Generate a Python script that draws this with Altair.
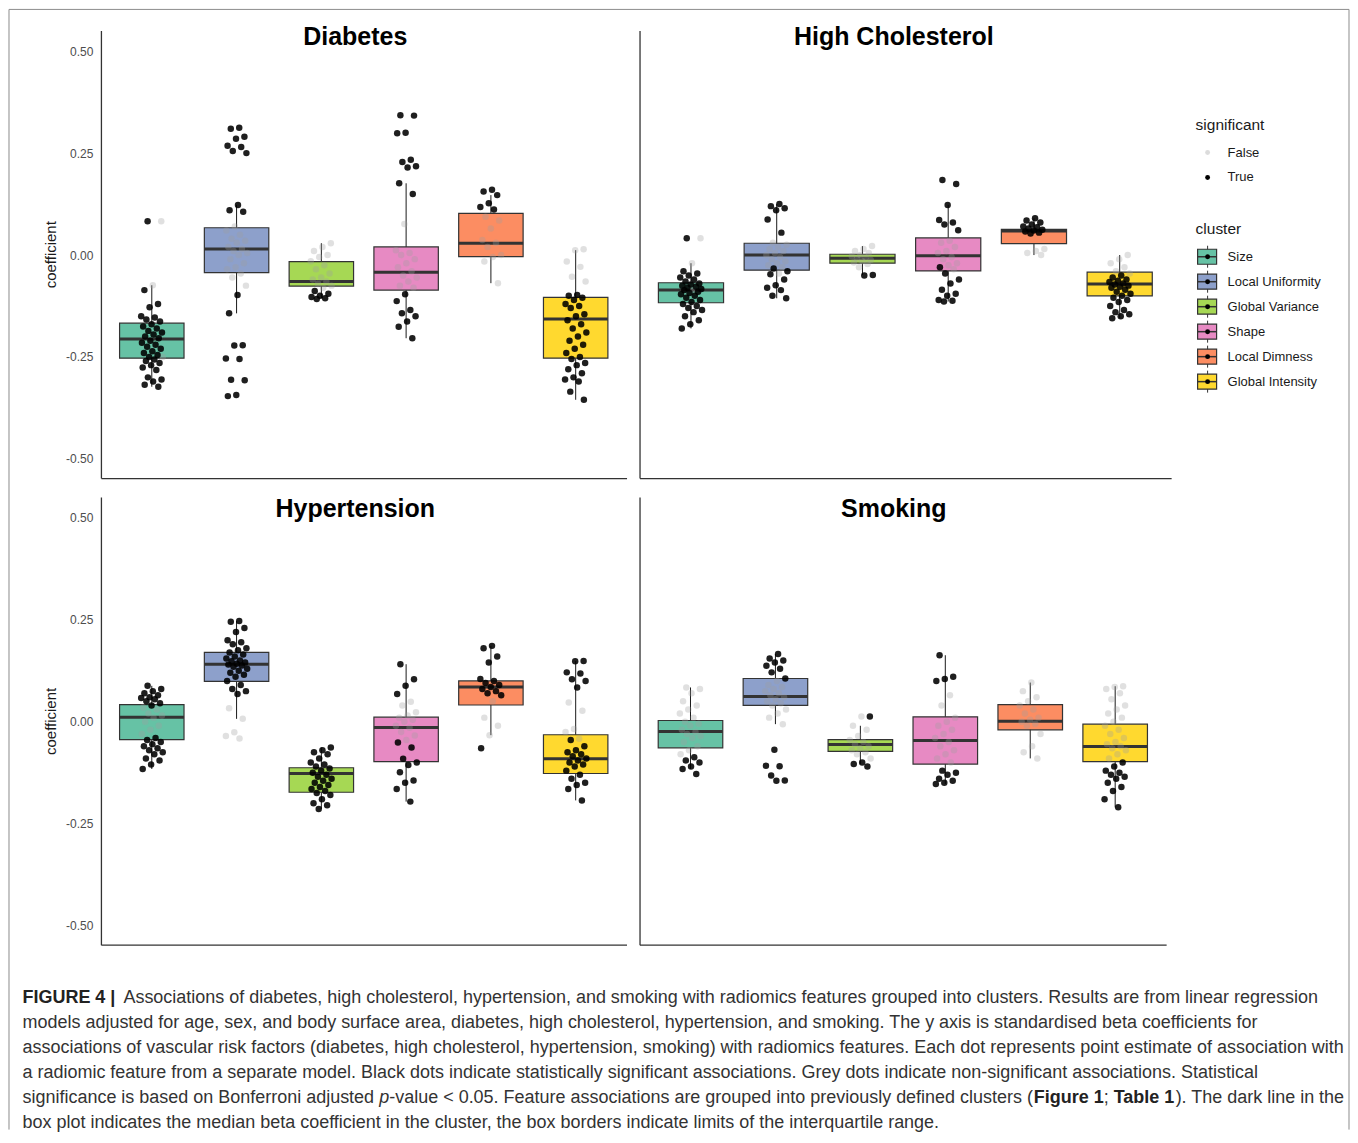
import altair as alt
import pandas as pd

clusters = ["Size", "Local Uniformity", "Global Variance", "Shape", "Local Dimness", "Global Intensity"]
cluster_colors = ["#66C2A5", "#8DA0CB", "#A6D854", "#E78AC3", "#FC8D62", "#FFD92F"]
panel_names = ["Diabetes", "High Cholesterol", "Hypertension", "Smoking"]
y_ticks = [-0.5, -0.25, 0.0, 0.25, 0.5]
sig_labels = ["False", "True"]

# box statistics per cluster: [whisker low, q1, median, q3, whisker high]
diabetes_box = [
    [-0.323, -0.253, -0.206, -0.167, -0.074],
    [-0.143, -0.043, 0.015, 0.067, 0.123],
    [-0.106, -0.076, -0.065, -0.016, 0.029],
    [-0.204, -0.086, -0.042, 0.020, 0.176],
    [-0.069, -0.004, 0.029, 0.102, 0.147],
    [-0.355, -0.253, -0.157, -0.104, 0.012],
]
cholesterol_box = [
    [-0.180, -0.117, -0.086, -0.068, -0.020],
    [-0.106, -0.037, 0.000, 0.029, 0.125],
    [-0.049, -0.020, -0.008, 0.002, 0.022],
    [-0.114, -0.039, -0.002, 0.042, 0.123],
    [0.000, 0.028, 0.059, 0.063, 0.090],
    [-0.155, -0.100, -0.071, -0.042, 0.000],
]
hypertension_box = [
    [-0.116, -0.044, 0.011, 0.042, 0.088],
    [0.007, 0.099, 0.141, 0.170, 0.247],
    [-0.214, -0.173, -0.127, -0.113, -0.063],
    [-0.196, -0.098, -0.014, 0.011, 0.141],
    [-0.033, 0.041, 0.085, 0.100, 0.186],
    [-0.193, -0.127, -0.091, -0.032, 0.149],
]
smoking_box = [
    [-0.116, -0.064, -0.024, 0.003, 0.084],
    [-0.006, 0.040, 0.062, 0.106, 0.166],
    [-0.104, -0.073, -0.056, -0.044, -0.010],
    [-0.153, -0.104, -0.046, 0.012, 0.163],
    [-0.090, -0.020, 0.001, 0.042, 0.096],
    [-0.210, -0.098, -0.061, -0.006, 0.087],
]

# coefficients of individual features (significant / not significant), per cluster
diabetes_sig = [
    [0.083, -0.086, -0.12, -0.128, -0.15, -0.153, -0.158, -0.163, -0.17, -0.175, -0.18, -0.186, -0.19, -0.195,
     -0.2, -0.204, -0.21, -0.215, -0.22, -0.225, -0.23, -0.236, -0.24, -0.245, -0.25, -0.256, -0.26, -0.265,
     -0.27, -0.276, -0.282, -0.3, -0.305, -0.31, -0.318, -0.323],
    [0.312, 0.31, 0.29, 0.285, 0.268, 0.265, 0.255, 0.25, 0.123, 0.11, 0.106, -0.098, -0.143, -0.221, -0.222,
     -0.254, -0.255, -0.306, -0.307, -0.343, -0.346],
    [-0.088, -0.095, -0.1, -0.103, -0.106, -0.108],
    [0.343, 0.342, 0.30, 0.299, 0.234, 0.228, 0.218, 0.215, 0.176, 0.15, -0.096, -0.113, -0.135, -0.143, -0.15,
     -0.163, -0.176, -0.204],
    [0.16, 0.156, 0.147, 0.127, 0.118, 0.112],
    [-0.098, -0.1, -0.105, -0.11, -0.12, -0.125, -0.13, -0.145, -0.15, -0.16, -0.17, -0.18, -0.19, -0.2, -0.21,
     -0.22, -0.23, -0.24, -0.25, -0.255, -0.265, -0.27, -0.28, -0.29, -0.3, -0.305, -0.31, -0.335, -0.355],
]
diabetes_nonsig = [
    [0.083, -0.074, -0.25],
    [0.07, 0.06, 0.05, 0.04, 0.035, 0.03, 0.02, 0.015, 0.01, 0.005, 0.0, -0.01, -0.02, -0.03, -0.035, -0.045,
     -0.055, -0.075],
    [0.029, 0.02, 0.01, 0.0, -0.005, -0.015, -0.025, -0.035, -0.045, -0.055, -0.06, -0.065, -0.07, -0.075, -0.08],
    [0.076, 0.012, 0.005, 0.0, -0.01, -0.02, -0.03, -0.04, -0.05, -0.055, -0.065, -0.075, -0.08],
    [0.094, 0.085, 0.065, 0.037, 0.03, 0.02, 0.0, -0.005, -0.016, -0.069],
    [0.014, 0.012, -0.016, -0.029, -0.053, -0.065],
]
cholesterol_sig = [
    [0.041, -0.04, -0.045, -0.05, -0.055, -0.06, -0.065, -0.07, -0.072, -0.075, -0.078, -0.08, -0.083, -0.086,
     -0.09, -0.093, -0.096, -0.1, -0.105, -0.11, -0.115, -0.12, -0.125, -0.13, -0.135, -0.14, -0.15, -0.16,
     -0.17, -0.18],
    [0.125, 0.12, 0.115, 0.11, 0.087, 0.055, -0.033, -0.04, -0.047, -0.06, -0.074, -0.08, -0.086, -0.1, -0.106],
    [-0.049, -0.05],
    [0.184, 0.174, 0.123, 0.086, 0.08, 0.075, 0.061, -0.03, -0.045, -0.06, -0.07, -0.085, -0.095, -0.1, -0.11,
     -0.112, -0.114],
    [0.09, 0.085, 0.08, 0.075, 0.07, 0.068, 0.065, 0.062, 0.06, 0.058, 0.055, 0.053],
    [-0.05, -0.055, -0.06, -0.063, -0.066, -0.07, -0.072, -0.075, -0.078, -0.08, -0.085, -0.09, -0.095, -0.1,
     -0.105, -0.11, -0.115, -0.125, -0.135, -0.14, -0.145, -0.15, -0.155],
]
cholesterol_nonsig = [
    [0.041, -0.02, -0.085],
    [0.03, 0.025, 0.02, 0.015, 0.01, 0.005, 0.0, -0.005, -0.01, -0.015, -0.02, -0.025, -0.03, -0.045],
    [0.022, 0.015, 0.01, 0.005, 0.0, -0.003, -0.006, -0.009, -0.012, -0.015, -0.018, -0.022, -0.03],
    [0.035, 0.03, 0.02, 0.01, 0.005, -0.005, -0.01, -0.02, -0.025, -0.035],
    [0.015, 0.01, 0.005, 0.0],
    [0.0, -0.01, -0.02, -0.03, -0.04, -0.045],
]
hypertension_sig = [
    [0.088, 0.08, 0.075, 0.07, 0.065, 0.06, 0.058, 0.055, 0.05, 0.045, 0.04, -0.04, -0.045, -0.05, -0.055, -0.06,
     -0.065, -0.07, -0.075, -0.08, -0.09, -0.095, -0.105, -0.116],
    [0.247, 0.245, 0.23, 0.22, 0.2, 0.195, 0.19, 0.18, 0.175, 0.17, 0.165, 0.16, 0.155, 0.15, 0.148, 0.145,
     0.142, 0.14, 0.138, 0.135, 0.13, 0.125, 0.12, 0.115, 0.11, 0.1, 0.09, 0.08, 0.075, 0.068],
    [-0.063, -0.07, -0.075, -0.08, -0.09, -0.1, -0.105, -0.11, -0.115, -0.12, -0.125, -0.13, -0.135, -0.14,
     -0.145, -0.15, -0.155, -0.16, -0.165, -0.17, -0.175, -0.18, -0.19, -0.2, -0.205, -0.214],
    [0.141, 0.104, 0.088, 0.068, -0.051, -0.063, -0.091, -0.1, -0.106, -0.124, -0.144, -0.15, -0.165, -0.196],
    [0.186, 0.18, 0.16, 0.145, 0.105, 0.1, 0.095, 0.09, 0.085, 0.08, 0.075, 0.07, 0.065, -0.065],
    [0.149, 0.148, 0.121, 0.118, 0.104, 0.1, 0.084, -0.045, -0.06, -0.07, -0.075, -0.08, -0.085, -0.09, -0.095,
     -0.1, -0.105, -0.11, -0.12, -0.13, -0.14, -0.15, -0.155, -0.165, -0.193],
]
hypertension_nonsig = [
    [0.035, 0.03, 0.02, 0.015, 0.01, 0.0, -0.01, -0.02, -0.03],
    [0.033, 0.007, -0.026, -0.035, -0.041],
    [],
    [0.049, 0.04, 0.023, 0.015, 0.01, 0.005, 0.0, -0.01, -0.015, -0.025, -0.034, -0.045],
    [0.05, 0.01, -0.01, -0.033],
    [0.047, 0.027, -0.018, -0.025, -0.042],
]
smoking_sig = [
    [-0.087, -0.095, -0.1, -0.11, -0.116, -0.128],
    [0.166, 0.155, 0.15, 0.145, 0.137, 0.13, 0.121, 0.106, -0.069, -0.108, -0.109, -0.132, -0.144, -0.145],
    [0.013, -0.1, -0.104, -0.11],
    [0.163, 0.11, 0.105, 0.1, -0.12, -0.125, -0.13, -0.14, -0.145, -0.15, -0.153],
    [],
    [-0.1, -0.11, -0.12, -0.125, -0.13, -0.135, -0.14, -0.15, -0.16, -0.17, -0.19, -0.21],
]
smoking_nonsig = [
    [0.084, 0.08, 0.07, 0.05, 0.04, 0.03, 0.02, 0.01, 0.0, -0.005, -0.01, -0.02, -0.025, -0.03, -0.035, -0.04,
     -0.05, -0.06, -0.07, -0.08],
    [0.1, 0.09, 0.085, 0.08, 0.075, 0.07, 0.065, 0.06, 0.055, 0.05, 0.045, 0.04, 0.03, 0.02, 0.01, -0.006],
    [0.013, -0.01, -0.02, -0.035, -0.045, -0.05, -0.055, -0.06, -0.065, -0.07, -0.075, -0.08, -0.09],
    [0.065, 0.04, 0.01, 0.0, -0.01, -0.02, -0.03, -0.04, -0.05, -0.06, -0.07, -0.08, -0.09, -0.1],
    [0.096, 0.075, 0.06, 0.05, 0.04, 0.03, 0.02, 0.01, 0.005, 0.0, -0.005, -0.01, -0.03, -0.06, -0.075, -0.09],
    [0.087, 0.085, 0.08, 0.07, 0.055, 0.04, 0.03, 0.02, 0.01, 0.0, -0.01, -0.02, -0.03, -0.04, -0.05, -0.055,
     -0.06, -0.065, -0.07, -0.08, -0.09],
]

caption_lines = [
    [("FIGURE 4 |", "bold", 22),
     ("Associations of diabetes, high cholesterol, hypertension, and smoking with radiomics features grouped "
      "into clusters. Results are from linear regression", "normal", 123)],
    [("models adjusted for age, sex, and body surface area, diabetes, high cholesterol, hypertension, and "
      "smoking. The y axis is standardised beta coefficients for", "normal", 22)],
    [("associations of vascular risk factors (diabetes, high cholesterol, hypertension, smoking) with radiomics "
      "features. Each dot represents point estimate of association with", "normal", 22)],
    [("a radiomic feature from a separate model. Black dots indicate statistically significant associations. "
      "Grey dots indicate non-significant associations. Statistical", "normal", 22)],
    [("significance is based on Bonferroni adjusted ", "normal", 22),
     ("p", "italic", 379),
     ("-value < 0.05. Feature associations are grouped into previously defined clusters (", "normal", 389),
     ("Figure 1", "bold", 1034),
     (";", "normal", 1104),
     ("Table 1", "bold", 1114),
     ("). The dark line in the", "normal", 1176)],
    [("box plot indicates the median beta coefficient in the cluster, the box borders indicate limits of the "
      "interquartile range.", "normal", 22)],
]

FONT = "Liberation Sans"
W_LEFT, W_RIGHT, H = 526, 532, 448
ORIGIN_X, ORIGIN_Y = 100.5, 29.5   # page position of the first panel's plot area

XS = alt.Scale(domain=[0.4, 6.6], nice=False, zero=False)
YS = alt.Scale(domain=[-0.547, 0.551], nice=False, zero=False)
cluster_color = alt.Color("cluster:N", scale=alt.Scale(domain=clusters, range=cluster_colors), legend=None)

x_axis = alt.Axis(labels=False, ticks=False, tickSize=0, grid=False, title=None,
                  domainColor="#333333", domainWidth=1.3)
y_axis_left = alt.Axis(values=y_ticks,
                       labelExpr="(datum.value < 0 ? '-' : '') + format(abs(datum.value), '.2f')",
                       labelFont=FONT, labelFontSize=12, labelColor="#4d4d4d", labelPadding=8,
                       ticks=False, tickSize=0, grid=False, title="coefficient", titleFont=FONT,
                       titleFontSize=15, titleFontWeight="normal", titleColor="#1a1a1a", titlePadding=7,
                       domainColor="#333333", domainWidth=1.3)
y_axis_right = alt.Axis(labels=False, ticks=False, tickSize=0, grid=False, title=None,
                        domainColor="#333333", domainWidth=1.3)


def frames(box, sig, nonsig):
    b = pd.DataFrame(box, columns=["lo", "q1", "med", "q3", "hi"])
    b["idx"] = list(range(1, 7))
    b["cluster"] = clusters
    rows = []
    for i, c in enumerate(clusters):
        vals = [(v, "True") for v in sig[i]] + [(v, "False") for v in nonsig[i]]
        vals.sort(key=lambda t: -t[0])
        for k, (v, s) in enumerate(vals):
            rows.append({"idx": i + 1, "cluster": c, "v": v, "significant": s, "k": k})
    return b, pd.DataFrame(rows)


def panel(name, box, sig, nonsig, width, left, title_y, border=False):
    bdf, pdf = frames(box, sig, nonsig)
    yax = y_axis_left if left else y_axis_right

    def X(f):
        return alt.X(f, type="quantitative", scale=XS, axis=x_axis)

    def Y(f):
        return alt.Y(f, type="quantitative", scale=YS, axis=yax)

    base_b = alt.Chart(bdf).transform_calculate(x0="datum.idx - 0.38", x1="datum.idx + 0.38")
    whisk = base_b.mark_rule(color="#1a1a1a", strokeWidth=1).encode(x=X("idx"), y=Y("lo"), y2="hi:Q")
    boxes = base_b.mark_rect(stroke="#333333", strokeWidth=1.2).encode(
        x=X("x0"), x2="x1:Q", y=Y("q1"), y2="q3:Q", color=cluster_color)
    med = base_b.mark_rule(color="#333333", strokeWidth=3).encode(x=X("x0"), x2="x1:Q", y=Y("med"))

    base_p = alt.Chart(pdf).transform_calculate(
        xj="datum.idx + ((datum.k * 0.6180339887 + datum.idx * 0.31) % 1 - 0.5) * 0.26")
    grey = base_p.transform_filter("datum.significant == 'False'").mark_circle(
        size=42, color="#a0a0a0", opacity=0.32).encode(x=X("xj"), y=Y("v"))
    black = base_p.transform_filter("datum.significant == 'True'").mark_circle(
        size=42, color="#000000", opacity=0.88).encode(x=X("xj"), y=Y("v"))

    title = alt.Chart(pd.DataFrame({"t": [name]})).mark_text(
        font=FONT, fontSize=25, fontWeight="bold", align="center", baseline="alphabetic",
        color="#000000").encode(x=alt.value(254.5), y=alt.value(title_y), text="t:N")

    layers = [whisk, boxes, med, grey, black, title]
    if border:
        one = alt.Chart(pd.DataFrame({"a": [0]}))
        bc = "#8c8c8c"
        layers += [
            one.mark_rule(color=bc, strokeWidth=1).encode(x=alt.value(-92), x2=alt.value(1249), y=alt.value(-21)),
            one.mark_rule(color=bc, strokeWidth=1).encode(x=alt.value(-92), y=alt.value(-21), y2=alt.value(1100)),
            one.mark_rule(color=bc, strokeWidth=1).encode(x=alt.value(1249), y=alt.value(-21), y2=alt.value(1100)),
        ]
    return alt.layer(*layers).properties(width=width, height=H)


diab = panel(panel_names[0], diabetes_box, diabetes_sig, diabetes_nonsig, W_LEFT, True, 15, border=True)
chol = panel(panel_names[1], cholesterol_box, cholesterol_sig, cholesterol_nonsig, W_RIGHT, False, 15)
hyp = panel(panel_names[2], hypertension_box, hypertension_sig, hypertension_nonsig, W_LEFT, True, 20)
smk = panel(panel_names[3], smoking_box, smoking_sig, smoking_nonsig, 527, False, 20)

# ---- legend ----
lg_sig = pd.DataFrame({"label": sig_labels, "k": [0, 1]})
lg_cl = pd.DataFrame({"cluster": clusters, "k": list(range(6))})
PY = alt.Y("py:Q", scale=None, axis=None)
sig_base = alt.Chart(lg_sig).transform_calculate(py="122.2 + 25 * datum.k")
cl_base = alt.Chart(lg_cl).transform_calculate(
    py="226.5 + 25 * datum.k", pt="226.5 + 25 * datum.k - 11", pb="226.5 + 25 * datum.k + 11",
    bt="226.5 + 25 * datum.k - 7.5", bb="226.5 + 25 * datum.k + 7.5")
leg_layers = [
    alt.Chart(pd.DataFrame({"t": ["significant", "cluster"], "py": [94.5, 198.8]})).mark_text(
        font=FONT, fontSize=15.5, align="left", baseline="middle", color="#1a1a1a").encode(
        x=alt.value(11.5), y=PY, text="t:N"),
    sig_base.transform_filter("datum.label == 'False'").mark_circle(size=24, color="#dcdcdc", opacity=1).encode(
        x=alt.value(23.5), y=PY),
    sig_base.transform_filter("datum.label == 'True'").mark_circle(size=24, color="#000000", opacity=1).encode(
        x=alt.value(23.5), y=PY),
    sig_base.mark_text(font=FONT, fontSize=13, align="left", baseline="middle", color="#1a1a1a").encode(
        x=alt.value(43.5), y=PY, text="label:N"),
    cl_base.mark_rule(color="#333333", strokeWidth=1).encode(
        x=alt.value(23.5), y=alt.Y("pt:Q", scale=None, axis=None), y2="pb:Q"),
    cl_base.mark_rect(stroke="#333333", strokeWidth=1.2).encode(
        x=alt.value(13.5), x2=alt.value(32.5), y=alt.Y("bt:Q", scale=None, axis=None), y2="bb:Q",
        color=cluster_color),
    cl_base.mark_rule(color="#333333", strokeWidth=1.5).encode(x=alt.value(13.5), x2=alt.value(32.5), y=PY),
    cl_base.mark_circle(size=24, color="#000000", opacity=1).encode(x=alt.value(23.5), y=PY),
    cl_base.mark_text(font=FONT, fontSize=13, align="left", baseline="middle", color="#1a1a1a").encode(
        x=alt.value(43.5), y=PY, text="cluster:N"),
]
legend = alt.layer(*leg_layers).properties(width=150, height=H)

# ---- caption ----
cap_rows = []
CAP_ORIGIN_Y = ORIGIN_Y + H + 19 + H + 19
for li, segs in enumerate(caption_lines):
    for text, style, xpage in segs:
        cap_rows.append({"text": text, "style": style, "px": xpage - ORIGIN_X,
                         "py": 1003 + 25 * li - CAP_ORIGIN_Y})
cap_df = pd.DataFrame(cap_rows)
cap_base = alt.Chart(cap_df)
cap_enc = dict(x=alt.X("px:Q", scale=None, axis=None), y=alt.Y("py:Q", scale=None, axis=None), text="text:N")
caption = alt.layer(
    cap_base.transform_filter("datum.style == 'normal'").mark_text(
        font=FONT, fontSize=18, align="left", baseline="alphabetic", color="#333333").encode(**cap_enc),
    cap_base.transform_filter("datum.style == 'bold'").mark_text(
        font=FONT, fontSize=18, fontWeight="bold", align="left", baseline="alphabetic",
        color="#222222").encode(**cap_enc),
    cap_base.transform_filter("datum.style == 'italic'").mark_text(
        font=FONT, fontSize=18, fontStyle="italic", align="left", baseline="alphabetic",
        color="#333333").encode(**cap_enc),
).properties(width=1, height=1)

blank = alt.Chart(pd.DataFrame({"a": [0]})).mark_point(opacity=0).encode(
    x=alt.value(0), y=alt.value(0)).properties(width=1, height=1)

chart = alt.concat(
    diab, chol, legend, hyp, smk, blank, caption,
    columns=3, spacing={"row": 19, "column": 13}, bounds="flush", padding=0,
).configure(font=FONT).configure_view(strokeWidth=0, stroke="transparent")

chart.save("out.html", embed_options={"renderer": "svg", "actions": False})
